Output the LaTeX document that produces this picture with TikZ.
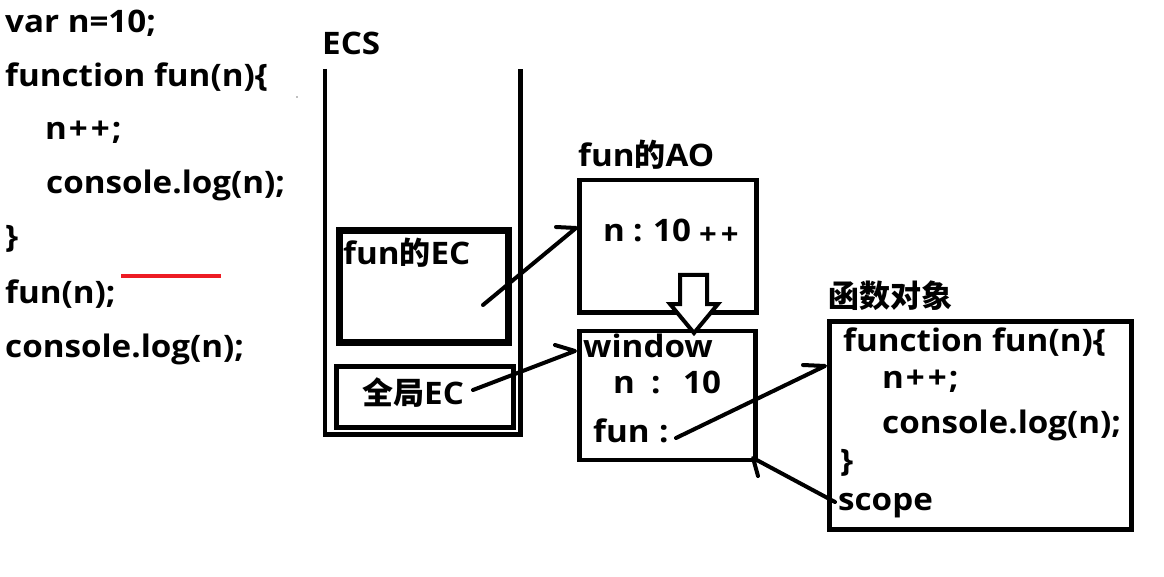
\documentclass[tikz,border=0pt]{standalone}
\usepackage{fontspec}
\setmainfont{Open Sans}[FakeStretch=1.07]
\newfontfamily\cjk{Noto Sans CJK SC}
\definecolor{pred}{HTML}{ED1C24}
\newcommand{\pp}{\kern2pt+\kern3pt+\kern2pt}
\begin{document}
\begin{tikzpicture}[x=1pt,y=-1pt,
  txt/.style={anchor=base west,inner sep=0pt,font=\fontsize{31}{36}\selectfont\bfseries},
  small/.style={anchor=base west,inner sep=0pt,font=\fontsize{29}{30}\selectfont\bfseries},
  box/.style={draw,line width=4.5pt,anchor=north west,inner sep=0pt},
  conn/.style={line width=4pt,line cap=round,line join=round}]
\useasboundingbox (0,0) rectangle (1164,577);
% code on the left
\node[txt] (l1) at (5,33) {var n=10;};
\node[txt] (l2) at (5,87) {function fun(n)\{};
\node[txt] (l3) at (45,140) {n\pp;};
\node[txt] (l4) at (46,194) {console.log(n);};
\node[txt] (l5) at (5,248) {\}};
\node[txt] (l6) at (5,303) {fun(n);};
\node[txt] (l7) at (5,357) {console.log(n);};
\coordinate (redA) at (121,276);
\coordinate (redB) at (221,276);
\draw[pred,line width=4pt] (redA) -- (redB);
\fill[gray] (297,97) circle (0.8);
% ECS stack
\node[txt] (ecs) at (322,55) {ECS};
\coordinate (sTL) at (325,69);
\coordinate (sBL) at (325,434.5);
\coordinate (sBR) at (520.5,434.5);
\coordinate (sTR) at (520.5,69);
\draw[line width=4.5pt] (sTL) -- (sBL) -- (sBR) -- (sTR);
\node[box,line width=7pt,minimum width=169pt,minimum height=112pt] (funec) at (336,227) {};
\node[txt] (funect) at (343,265) {fun{\cjk\bfseries 的}EC};
\node[box,line width=5pt,minimum width=177pt,minimum height=60.5pt] (glec) at (334,364) {};
\node[txt] (glect) at (362,404) {{\cjk\bfseries 全局}EC};
% fun's AO
\node[txt] (aot) at (578,167) {fun{\cjk\bfseries 的}AO};
\node[box,minimum width=177pt,minimum height=132pt] (ao) at (577,178) {};
\node[txt] (aon) at (603,242) {n};
\node[txt] (aoc) at (633,242) {:};
\node[txt] (ao10) at (653,242) {10};
\node[small] (aopp) at (699,245) {+\kern4pt+};
% window
\node[box,minimum width=176pt,minimum height=129pt] (win) at (577,328.5) {};
\node[txt] (wint) at (583,357) {window};
\node[txt] (winn) at (613,393) {n};
\node[txt] (winc) at (651,393) {:};
\node[txt] (win10) at (683,393) {10};
\node[txt] (winf) at (593,442) {fun};
\node[txt] (winfc) at (659,442) {:};
% hollow arrow
\coordinate (h1) at (680,275);
\coordinate (h2) at (707,275);
\coordinate (h3) at (707,304);
\coordinate (h4) at (718,304);
\coordinate (h5) at (694,333);
\coordinate (h6) at (670,304);
\coordinate (h7) at (680,304);
\draw[line width=4pt,fill=white,line join=miter] (h1) -- (h2) -- (h3) -- (h4) -- (h5) -- (h6) -- (h7) -- cycle;
% function object
\node[txt] (fot) at (828,307) {\cjk\bfseries 函数对象};
\node[box,line width=5pt,minimum width=302pt,minimum height=208pt] (fo) at (827,319) {};
\node[txt] (fo1) at (843,351) {function fun(n)\{};
\node[txt] (fo2) at (882,388) {n\pp;};
\node[txt] (fo3) at (882,433) {console.log(n);};
\node[txt] (fo4) at (840,471) {\}};
\node[txt] (fo5) at (838,510) {scope};
% connectors with one-sided barbs
\coordinate (c1s) at (483,305);
\coordinate (c1e) at (576,228);
\coordinate (c1b) at (556,227);
\draw[conn] (c1s) -- (c1e) -- (c1b);
\coordinate (c2s) at (473,390);
\coordinate (c2e) at (575,351);
\coordinate (c2b) at (555,345);
\draw[conn] (c2s) -- (c2e) -- (c2b);
\coordinate (c3s) at (676,438);
\coordinate (c3e) at (825,366);
\coordinate (c3b) at (803,365);
\draw[conn] (c3s) -- (c3e) -- (c3b);
\coordinate (c4s) at (835,502);
\coordinate (c4e) at (753,458);
\coordinate (c4b) at (758,476);
\draw[conn] (c4s) -- (c4e) -- (c4b);
\end{tikzpicture}
\end{document}
